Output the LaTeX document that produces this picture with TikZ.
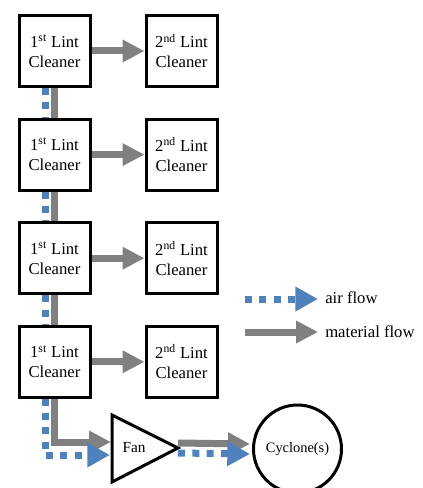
\documentclass[tikz,border=0pt]{standalone}
\usepackage{fontspec}
\setmainfont{Liberation Serif}
\usetikzlibrary{arrows.meta,calc,positioning}
\definecolor{airblue}{RGB}{79,129,189}
\definecolor{matgray}{RGB}{128,128,128}
\tikzset{
  cleaner/.style={draw,line width=2.25pt,fill=white,minimum size=53.25pt,inner sep=0pt,
    align=center,font=\fontsize{12.5}{15}\selectfont},
  matline/.style={draw=matgray,line width=5.25pt},
  airline/.style={draw=airblue,line width=5.25pt,dash pattern=on 5.25pt off 5.5pt},
  matflow/.style={matline,-{Triangle[length=16.5pt,width=16pt]}},
  airflow/.style={airline,-{Triangle[length=17pt,width=17.5pt]}},
  legtext/.style={anchor=west,inner sep=0pt,font=\fontsize{12.5}{15}\selectfont},
}

\begin{document}
\begin{tikzpicture}[x=0.75pt,y=-0.75pt,node distance=77.7pt]
  \useasboundingbox (0,0) rectangle (422,488);

  % first and second lint cleaners
  \node[cleaner] (L1) at (54.5,51) {1\textsuperscript{st} Lint\\Cleaner};
  \node[cleaner] (L2) [below of=L1] {1\textsuperscript{st} Lint\\Cleaner};
  \node[cleaner] (L3) [below of=L2] {1\textsuperscript{st} Lint\\Cleaner};
  \node[cleaner] (L4) [below of=L3] {1\textsuperscript{st} Lint\\Cleaner};
  \node[cleaner] (R1) [right of=L1,node distance=95.25pt] {2\textsuperscript{nd} Lint\\Cleaner};
  \node[cleaner] (R2) [right of=L2,node distance=95.25pt] {2\textsuperscript{nd} Lint\\Cleaner};
  \node[cleaner] (R3) [right of=L3,node distance=95.25pt] {2\textsuperscript{nd} Lint\\Cleaner};
  \node[cleaner] (R4) [right of=L4,node distance=95.25pt] {2\textsuperscript{nd} Lint\\Cleaner};

  % fan and cyclone
  \coordinate (fanW) at (112,448);
  \coordinate (fanE) at (178,448);
  \draw[line width=2.25pt,fill=white] (112,415) -- (fanE) -- (112,482) -- cycle;
  \node[font=\fontsize{11.5}{14}\selectfont] (fan) at (134,448) {Fan};
  \node[circle,draw,line width=2.25pt,minimum size=66pt,inner sep=0pt,
    font=\fontsize{10.8}{13}\selectfont] (cyc) at (297.5,449) {Cyclone(s)};

  % material flow
  \foreach \i in {1,2,3,4}
    \draw[matflow] (L\i.east) -- (R\i.west);
  \draw[matline] (L1.south) -- (L2.north);
  \draw[matline] (L2.south) -- (L3.north);
  \draw[matline] (L3.south) -- (L4.north);
  \draw[matflow] (L4.south) |- ($(fanW)+(-1,-6)$);
  \draw[matflow] ($(fanE)+(0,-5)$) -- ($(cyc.west)+(-2,-5)$);

  % air flow
  \draw[airline] ($(L1.south)+(-9.5,0)$) -- ($(L2.north)+(-9.5,0)$);
  \draw[airline] ($(L2.south)+(-9.5,0)$) -- ($(L3.north)+(-9.5,0)$);
  \draw[airline] ($(L3.south)+(-9.5,0)$) -- ($(L4.north)+(-9.5,0)$);
  \draw[airflow] ($(L4.south)+(-9.5,0)$) |- ($(fanW)+(-2,7)$);
  \draw[airflow] ($(fanE)+(0,5)$) -- ($(cyc.west)+(-2,5)$);

  % legend
  \coordinate (airA) at (245,299);
  \coordinate (matA) at (245,332);
  \node[legtext] (airlab) at (325,298) {air flow};
  \node[legtext] (matlab) at (325,332) {material flow};
  \draw[airflow] (airA) -- ($(airlab.west)+(-7,1)$);
  \draw[matflow] (matA) -- ($(matlab.west)+(-7,0)$);
\end{tikzpicture}
\end{document}
